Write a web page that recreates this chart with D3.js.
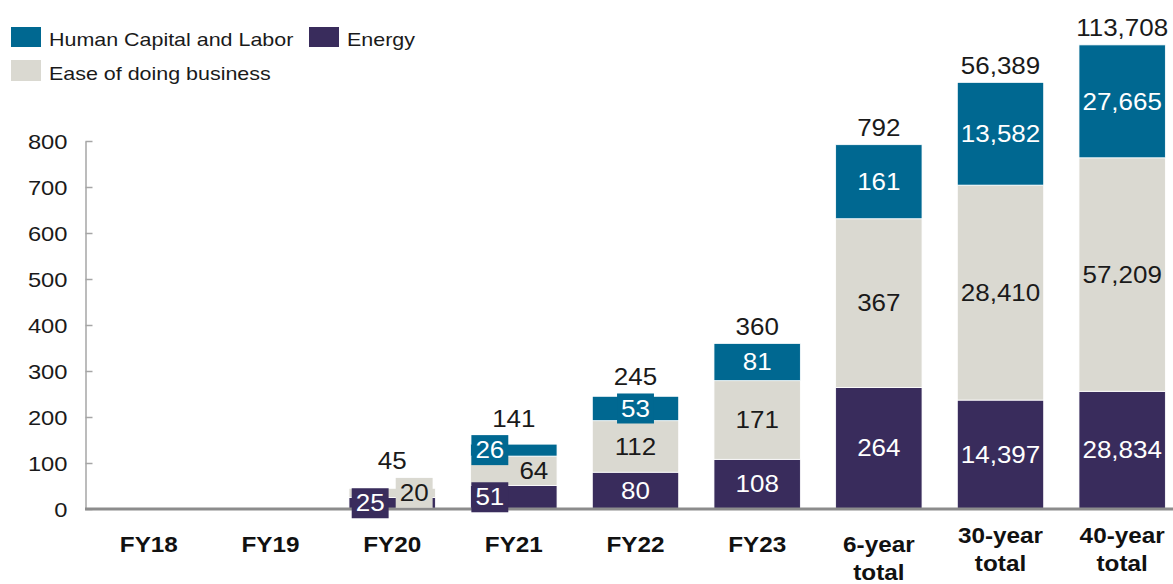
<!DOCTYPE html>
<html><head><meta charset="utf-8">
<script src="https://cdn.jsdelivr.net/npm/d3@7"></script>
<style>
html,body{margin:0;padding:0;background:#fff;}
svg{display:block;font-family:"Liberation Sans",Arial,sans-serif;}
</style>
</head><body>
<svg id="chart" width="1173" height="584"></svg>
<script>
// ---- data ----
const categories = ["FY18","FY19","FY20","FY21","FY22","FY23","6-year total","30-year total","40-year total"];
const energy = [0,0,25,51,80,108,264,14397,28834];
const easeOfDoingBusiness = [0,0,20,64,112,171,367,28410,57209];
const humanCapitalAndLabor = [0,0,0,26,53,81,161,13582,27665];
const totals = [0,0,45,141,245,360,792,56389,113708];
// the long-run totals are drawn on a compressed (broken) scale in the source chart
const scaleBreakDivisor = [1,1,1,1,1,1,1,60.8,112.7];
const yTicks = [0,100,200,300,400,500,600,700,800];
const seriesNames = ["Energy","Ease of doing business","Human Capital and Labor"];
const legendOrder = ["Human Capital and Labor","Energy","Ease of doing business"];

(function(){
// ---- styling ----
const SX = 1.13; // horizontal text stretch seen in the source image
const colors = {"Human Capital and Labor":"#006891","Energy":"#392c5c","Ease of doing business":"#dad9d1"};
const labelColors = {"Human Capital and Labor":"#ffffff","Energy":"#ffffff","Ease of doing business":"#1a1a1a"};
const raw = {"Energy":energy,"Ease of doing business":easeOfDoingBusiness,"Human Capital and Labor":humanCapitalAndLabor};
const labelShift = {
  "FY20|Energy": -22, "FY20|Ease of doing business": 22,
  "FY21|Energy": -24, "FY21|Human Capital and Labor": -24, "FY21|Ease of doing business": 20
};
const fmt = d3.format(",");

const svg = d3.select("#chart");
svg.append("rect").attr("width",1173).attr("height",584).attr("fill","#fff");

const x = d3.scaleBand().domain(categories).range([88,1183]).paddingInner(0.29).paddingOuter(0.145);
const y = d3.scaleLinear().domain([0,800]).range([509,141]);

const rows = categories.map((c,i)=>{
  const r = {category:c, i:i};
  seriesNames.forEach(s => r[s] = raw[s][i] / scaleBreakDivisor[i]);
  return r;
});
const stacked = d3.stack().keys(seriesNames)(rows);

// ---- y axis ----
const gy = svg.append("g").attr("transform","translate(85.5,0)")
  .call(d3.axisLeft(y).tickValues(yTicks).tickSizeInner(-7).tickSizeOuter(0).tickPadding(19));
gy.attr("font-family",null).attr("font-size",null);
gy.select(".domain").attr("stroke","#a6a6a6").attr("stroke-width",1.5);
gy.selectAll(".tick line").attr("stroke","#a6a6a6").attr("stroke-width",1.5);
gy.selectAll(".tick text")
  .attr("x",null).attr("dy",null)
  .attr("transform",`translate(-18,7.5) scale(${SX},1)`)
  .attr("font-size",21).attr("fill","#1a1a1a");

// ---- bars ----
const layers = svg.append("g").selectAll("g").data(stacked).join("g")
  .attr("fill", d => colors[d.key]);
layers.selectAll("rect").data(d => d.map(v => ({key:d.key, v0:v[0], v1:v[1], data:v.data})))
  .join("rect")
  .filter(d => d.v1 - d.v0 > 0)
  .attr("x", d => x(d.data.category))
  .attr("width", x.bandwidth())
  .attr("y", d => y(d.v1))
  .attr("height", d => y(d.v0) - y(d.v1))
  .attr("stroke","#ffffff").attr("stroke-width",0.8);

// ---- baseline ----
svg.append("line").attr("x1",85).attr("x2",1173).attr("y1",509).attr("y2",509)
  .attr("stroke","#8c8c8c").attr("stroke-width",3);

// ---- x axis labels ----
const gx = svg.append("g").attr("transform","translate(0,509)")
  .call(d3.axisBottom(x).tickSize(0).tickPadding(0));
gx.attr("font-family",null).attr("font-size",null);
gx.select(".domain").remove();
gx.selectAll(".tick text").each(function(d,i){
  const t = d3.select(this);
  const sp = d.indexOf(" ");
  const parts = sp>0 ? [d.slice(0,sp), d.slice(sp+1)] : [d];
  const first = (i>=7) ? 34 : 43;
  t.text(null).attr("y",null).attr("dy",null)
   .attr("transform",`translate(0,${first}) scale(${SX},1)`)
   .attr("font-size",21.5).attr("font-weight","bold").attr("fill","#111");
  parts.forEach((p,k)=>{
    t.append("tspan").attr("x",0).attr("dy",k===0?0:28).text(p);
  });
});

// ---- value labels ----
const lab = svg.append("g");
const boxTop = {};
stacked.forEach(layer=>{
  layer.forEach(v=>{
    const cat = v.data.category, i = v.data.i, val = raw[layer.key][i];
    if (!(val>0)) return;
    const y0 = y(v[0]), y1 = y(v[1]), h = y0 - y1;
    const cx = x(cat) + x.bandwidth()/2 + (labelShift[cat+"|"+layer.key] || 0);
    const cy = (y0 + y1)/2;
    const g = lab.append("g");
    const t = g.append("text")
      .attr("transform",`translate(${cx},${cy+8.2}) scale(${SX},1)`)
      .attr("text-anchor","middle").attr("font-size",23)
      .attr("fill",labelColors[layer.key]).text(fmt(val));
    if (h < 26) {
      const w = t.node().getComputedTextLength()*SX + 8;
      g.insert("rect","text").attr("x",cx-w/2).attr("y",cy-15).attr("width",w).attr("height",30)
        .attr("fill",colors[layer.key]);
      boxTop[cat] = Math.min(boxTop[cat] ?? Infinity, cy-15);
    }
  });
});

// ---- totals ----
const topLayer = stacked[stacked.length-1];
svg.append("g").selectAll("text").data(topLayer.filter((v,i)=>totals[i]>0)).join("text")
  .attr("transform", v => {
    const cat = v.data.category;
    const t = Math.min(y(v[1]), boxTop[cat] ?? Infinity);
    return `translate(${x(cat)+x.bandwidth()/2},${t-8.5}) scale(${SX},1)`;
  })
  .attr("text-anchor","middle").attr("font-size",23).attr("fill","#1a1a1a")
  .text(v => fmt(totals[v.data.i]));

// ---- legend ----
const legendPos = [{x:11,y:27,h:20},{x:309,y:27,h:20},{x:11,y:60,h:21}];
const lg = svg.append("g").selectAll("g").data(legendOrder).join("g")
  .attr("transform",(d,i)=>`translate(${legendPos[i].x},${legendPos[i].y})`);
lg.append("rect").attr("width",30).attr("height",(d,i)=>legendPos[i].h).attr("fill",d=>colors[d]);
lg.append("text").attr("transform",(d,i)=>`translate(38,${legendPos[i].h-1.5}) scale(1.16,1)`)
  .attr("font-size",18.5).attr("fill","#1a1a1a").text(d=>d);
})();
</script>
</body></html>
